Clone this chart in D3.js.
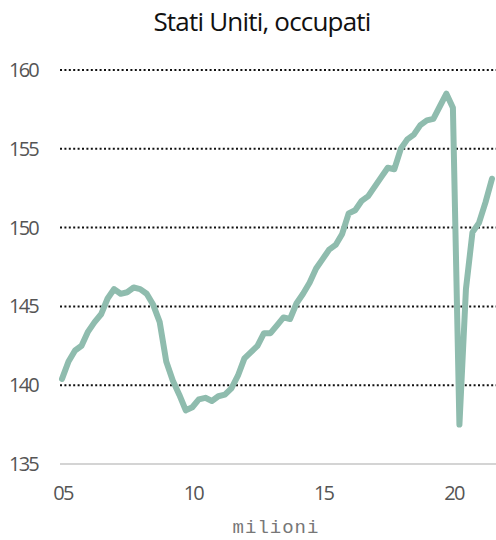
<!DOCTYPE html>
<html>
<head>
<meta charset="utf-8">
<script src="https://cdn.jsdelivr.net/npm/d3@7.8.5/dist/d3.min.js"></script>
<style>
  html, body { margin: 0; padding: 0; background: #fff; }
  svg { display: block; }
</style>
</head>
<body>
<svg id="chart" width="496" height="540"></svg>
<script>
// quarterly, millions of employed (USA)
const quarters = [
  2005.0, 2005.25, 2005.5, 2005.75, 2006.0, 2006.25, 2006.5, 2006.75,
  2007.0, 2007.25, 2007.5, 2007.75, 2008.0, 2008.25, 2008.5, 2008.75,
  2009.0, 2009.25, 2009.5, 2009.75, 2010.0, 2010.25, 2010.5, 2010.75,
  2011.0, 2011.25, 2011.5, 2011.75, 2012.0, 2012.25, 2012.5, 2012.75,
  2013.0, 2013.25, 2013.5, 2013.75, 2014.0, 2014.25, 2014.5, 2014.75,
  2015.0, 2015.25, 2015.5, 2015.75, 2016.0, 2016.25, 2016.5, 2016.75,
  2017.0, 2017.25, 2017.5, 2017.75, 2018.0, 2018.25, 2018.5, 2018.75,
  2019.0, 2019.25, 2019.5, 2019.75, 2020.0, 2020.25, 2020.5, 2020.75,
  2021.0, 2021.25, 2021.5
];
const employed = [
  140.4, 141.5, 142.2, 142.5, 143.4, 144.0, 144.5, 145.5,
  146.1, 145.8, 145.9, 146.2, 146.1, 145.8, 145.1, 144.0,
  141.5, 140.3, 139.4, 138.4, 138.6, 139.1, 139.2, 139.0,
  139.3, 139.4, 139.8, 140.6, 141.7, 142.1, 142.5, 143.3,
  143.3, 143.8, 144.3, 144.2, 145.2, 145.8, 146.5, 147.4,
  148.0, 148.6, 148.9, 149.6, 150.9, 151.1, 151.7, 152.0,
  152.6, 153.2, 153.8, 153.7, 155.0, 155.6, 155.9, 156.5,
  156.8, 156.9, 157.7, 158.5, 157.6, 137.5, 146.1, 149.7,
  150.3, 151.6, 153.1
];
const yTicks = [135, 140, 145, 150, 155, 160];
const xTicks = [2005, 2010, 2015, 2020];
const xTickLabels = ['05', '10', '15', '20'];
const title = 'Stati Uniti, occupati';
const unitLabel = 'milioni';

const svg = d3.select('#chart');

const x = d3.scaleLinear().domain([2005, 2021.5]).range([62, 492]);
const y = d3.scaleLinear().domain([135, 160]).range([464, 70]);

// title
svg.append('text')
  .attr('x', 262)
  .attr('y', 31)
  .attr('text-anchor', 'middle')
  .style('font-family', '"Open Sans", "Noto Sans", sans-serif')
  .style('font-size', '26px')
  .style('letter-spacing', '-0.8px')
  .style('fill', '#111')
  .text(title);

// grid lines (dotted), baseline solid grey
svg.append('g')
  .selectAll('line')
  .data(yTicks)
  .enter()
  .append('line')
  .attr('x1', 60)
  .attr('x2', 496)
  .attr('y1', d => y(d))
  .attr('y2', d => y(d))
  .attr('stroke', d => d === 135 ? '#d4d4d4' : '#111')
  .attr('stroke-width', 2)
  .attr('stroke-dasharray', d => d === 135 ? null : '2,2.4');

// y labels
svg.append('g')
  .selectAll('text')
  .data(yTicks)
  .enter()
  .append('text')
  .attr('x', 38)
  .attr('y', d => y(d) + 7)
  .attr('text-anchor', 'end')
  .style('font-family', '"Open Sans", "Noto Sans", sans-serif')
  .style('font-size', '20px')
  .style('letter-spacing', '-1.8px')
  .style('fill', '#555')
  .text(d => d);

// x labels
svg.append('g')
  .selectAll('text')
  .data(xTicks)
  .enter()
  .append('text')
  .attr('x', d => x(d) + 1)
  .attr('y', 500)
  .attr('text-anchor', 'middle')
  .style('font-family', '"Open Sans", "Noto Sans", sans-serif')
  .style('font-size', '20px')
  .style('letter-spacing', '-1.8px')
  .style('fill', '#555')
  .text((d, i) => xTickLabels[i]);

// unit label
svg.append('text')
  .attr('x', 276)
  .attr('y', 533)
  .attr('text-anchor', 'middle')
  .style('font-family', '"Liberation Mono", "DejaVu Sans Mono", monospace')
  .style('font-size', '19px')
  .style('letter-spacing', '1px')
  .style('fill', '#777')
  .text(unitLabel);

// series line
const line = d3.line()
  .x((d, i) => x(quarters[i]))
  .y(d => y(d));

svg.append('path')
  .datum(employed)
  .attr('d', line)
  .attr('fill', 'none')
  .attr('stroke', '#8fbcae')
  .attr('stroke-width', 6)
  .attr('stroke-linejoin', 'round')
  .attr('stroke-linecap', 'round');
</script>
</body>
</html>
